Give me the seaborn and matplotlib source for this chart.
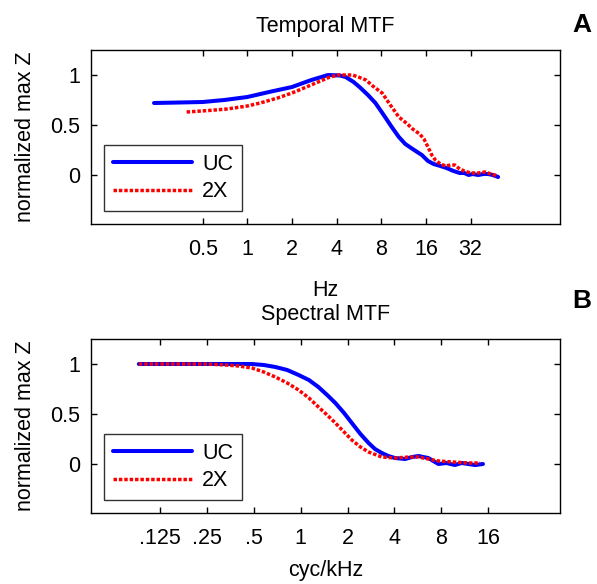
import matplotlib
matplotlib.use("Agg")
import matplotlib.pyplot as plt
import seaborn as sns
import pandas as pd

# ---- data ----
temporal_uc_hz = [0.235, 0.35, 0.5, 0.7, 1.0, 1.4, 2.0, 2.7, 3.5, 4.2, 4.6, 5.2, 5.7, 6.5, 7.3,
                  8.3, 9.4, 10.5, 11.6, 13.0, 15.0, 16.5, 18.0, 20.0, 22.0, 24.5, 27.0, 29.0,
                  31.0, 33.0, 36.0, 39.0, 42.0, 45.0, 49.0]
temporal_uc_val = [0.72, 0.725, 0.73, 0.75, 0.78, 0.83, 0.88, 0.95, 1.0, 0.995, 0.98, 0.93, 0.88,
                   0.80, 0.72, 0.60, 0.48, 0.38, 0.31, 0.26, 0.20, 0.14, 0.11, 0.09, 0.07, 0.04,
                   0.02, 0.02, 0.0, 0.01, 0.0, 0.01, 0.01, 0.0, -0.02]
temporal_2x_hz = [0.39, 0.55, 0.73, 1.0, 1.22, 1.6, 2.0, 2.5, 3.0, 3.6, 4.1, 4.6, 5.1, 5.6, 6.3,
                  7.0, 8.1, 9.2, 10.5, 12.0, 13.0, 14.5, 15.5, 16.5, 17.5, 18.5, 20.0, 21.7,
                  23.5, 25.0, 27.0, 29.0, 32.0, 36.0, 40.0, 44.0, 49.0]
temporal_2x_val = [0.63, 0.645, 0.66, 0.69, 0.72, 0.77, 0.82, 0.88, 0.93, 0.98, 1.0, 1.0, 1.0,
                   0.98, 0.95, 0.89, 0.82, 0.70, 0.58, 0.51, 0.46, 0.41, 0.36, 0.28, 0.20, 0.15,
                   0.11, 0.09, 0.10, 0.10, 0.06, 0.04, 0.02, 0.02, 0.03, 0.01, -0.01]

spectral_uc_f = [0.0915, 0.15, 0.25, 0.35, 0.486, 0.58, 0.688, 0.82, 0.97, 1.13, 1.30, 1.48,
                 1.67, 1.9, 2.13, 2.42, 2.73, 3.0, 3.32, 3.65, 4.03, 4.69, 5.2, 5.7, 6.59, 7.67,
                 8.6, 9.78, 10.8, 11.9, 13.2, 14.8]
spectral_uc_val = [1.0, 1.0, 1.0, 1.0, 1.0, 0.99, 0.97, 0.94, 0.89, 0.84, 0.77, 0.69, 0.61,
                   0.51, 0.41, 0.30, 0.21, 0.15, 0.11, 0.08, 0.06, 0.05, 0.07, 0.08, 0.06, 0.0,
                   0.01, -0.01, 0.01, 0.0, -0.01, 0.0]
spectral_2x_f = [0.0915, 0.15, 0.25, 0.33, 0.40, 0.486, 0.58, 0.688, 0.82, 0.97, 1.13, 1.30,
                 1.48, 1.67, 1.9, 2.13, 2.42, 2.73, 3.32, 4.03, 5.0, 5.7, 6.6, 7.67, 9.5, 11.9,
                 14.2]
spectral_2x_val = [1.0, 1.0, 1.0, 0.99, 0.98, 0.96, 0.92, 0.87, 0.81, 0.74, 0.66, 0.57, 0.49,
                   0.41, 0.32, 0.24, 0.17, 0.12, 0.07, 0.06, 0.07, 0.07, 0.05, 0.03, 0.02, 0.01,
                   0.01]

series_labels = ["UC", "2X"]
temporal_ticks = [0.5, 1, 2, 4, 8, 16, 32]
temporal_ticklabels = ["0.5", "1", "2", "4", "8", "16", "32"]
spectral_ticks = [0.125, 0.25, 0.5, 1, 2, 4, 8, 16]
spectral_ticklabels = [".125", ".25", ".5", "1", "2", "4", "8", "16"]
y_ticks = [0, 0.5, 1]
y_ticklabels = ["0", "0.5", "1"]

df_t = pd.concat([
    pd.DataFrame({"x": temporal_uc_hz, "y": temporal_uc_val, "group": series_labels[0]}),
    pd.DataFrame({"x": temporal_2x_hz, "y": temporal_2x_val, "group": series_labels[1]}),
], ignore_index=True)
df_s = pd.concat([
    pd.DataFrame({"x": spectral_uc_f, "y": spectral_uc_val, "group": series_labels[0]}),
    pd.DataFrame({"x": spectral_2x_f, "y": spectral_2x_val, "group": series_labels[1]}),
], ignore_index=True)

sns.set_style("ticks")
plt.rcParams["font.family"] = ["Liberation Sans", "DejaVu Sans"]
plt.rcParams["axes.linewidth"] = 1.0
for k in ["text.color", "axes.labelcolor", "xtick.color", "ytick.color", "axes.edgecolor"]:
    plt.rcParams[k] = "black"

fig = plt.figure(figsize=(5.97, 5.84), dpi=100)
W, H = 597, 584
ax1 = fig.add_axes([91 / W, 1 - 224 / H, 469 / W, 174 / H])
ax2 = fig.add_axes([91 / W, 1 - 513 / H, 469 / W, 174 / H])

palette = {"UC": "#0000ff", "2X": "#ff0000"}
dashes = {"UC": "", "2X": (1.0, 0.55)}

fs = 15.5
for ax, df, ticks, tlabels, xlim, title, tpad, xlabel, xlpad, letter, ly in [
    (ax1, df_t, temporal_ticks, temporal_ticklabels, (2 ** -3.5, 2 ** 7), "Temporal MTF", 13, "Hz", 14, "A", 25),
    (ax2, df_s, spectral_ticks, spectral_ticklabels, (2 ** -4.47, 2 ** 5.53), "Spectral MTF", 14, "cyc/kHz", 8, "B", 301),
]:
    sns.lineplot(data=df, x="x", y="y", hue="group", style="group", palette=palette,
                 dashes=dashes, sort=False, estimator=None, ax=ax)
    for line, lw in zip(ax.get_lines(), [2.9, 2.5]):
        line.set_linewidth(lw)
    ax.set_xscale("log", base=2)
    ax.set_xlim(*xlim)
    ax.set_ylim(-0.49, 1.25)
    ax.set_xticks(ticks)
    ax.set_xticklabels(tlabels, fontsize=fs)
    ax.xaxis.set_minor_locator(matplotlib.ticker.NullLocator())
    ax.set_yticks(y_ticks)
    ax.set_yticklabels(y_ticklabels, fontsize=fs)
    ax.tick_params(direction="in", length=4, width=1, top=True, right=True, colors="black")
    ax.tick_params(axis="x", pad=11)
    ax.tick_params(axis="y", pad=8)
    for s in ax.spines.values():
        s.set_visible(True)
        s.set_color("black")
        s.set_linewidth(1.0)
    ax.set_title(title, fontsize=fs, pad=tpad)
    ax.set_xlabel(xlabel, fontsize=fs, labelpad=xlpad)
    ax.set_ylabel("normalized max Z", fontsize=fs, labelpad=10)
    handles, labels = ax.get_legend_handles_labels()
    for h, lw in zip(handles, [2.9, 2.5]):
        h.set_linewidth(lw)
    leg = ax.legend(handles=handles, labels=labels, loc="lower left",
                    bbox_to_anchor=(0.028, 0.075), fontsize=fs, handlelength=3.7,
                    frameon=True, fancybox=False, borderpad=0.4, labelspacing=0.3,
                    handletextpad=0.45, borderaxespad=0)
    leg.get_frame().set_edgecolor("black")
    leg.get_frame().set_linewidth(1.0)
    fig.text(582 / W, 1 - ly / H, letter, fontsize=19, fontweight="bold",
             ha="center", va="center")

fig.savefig("out.png", dpi=100)
